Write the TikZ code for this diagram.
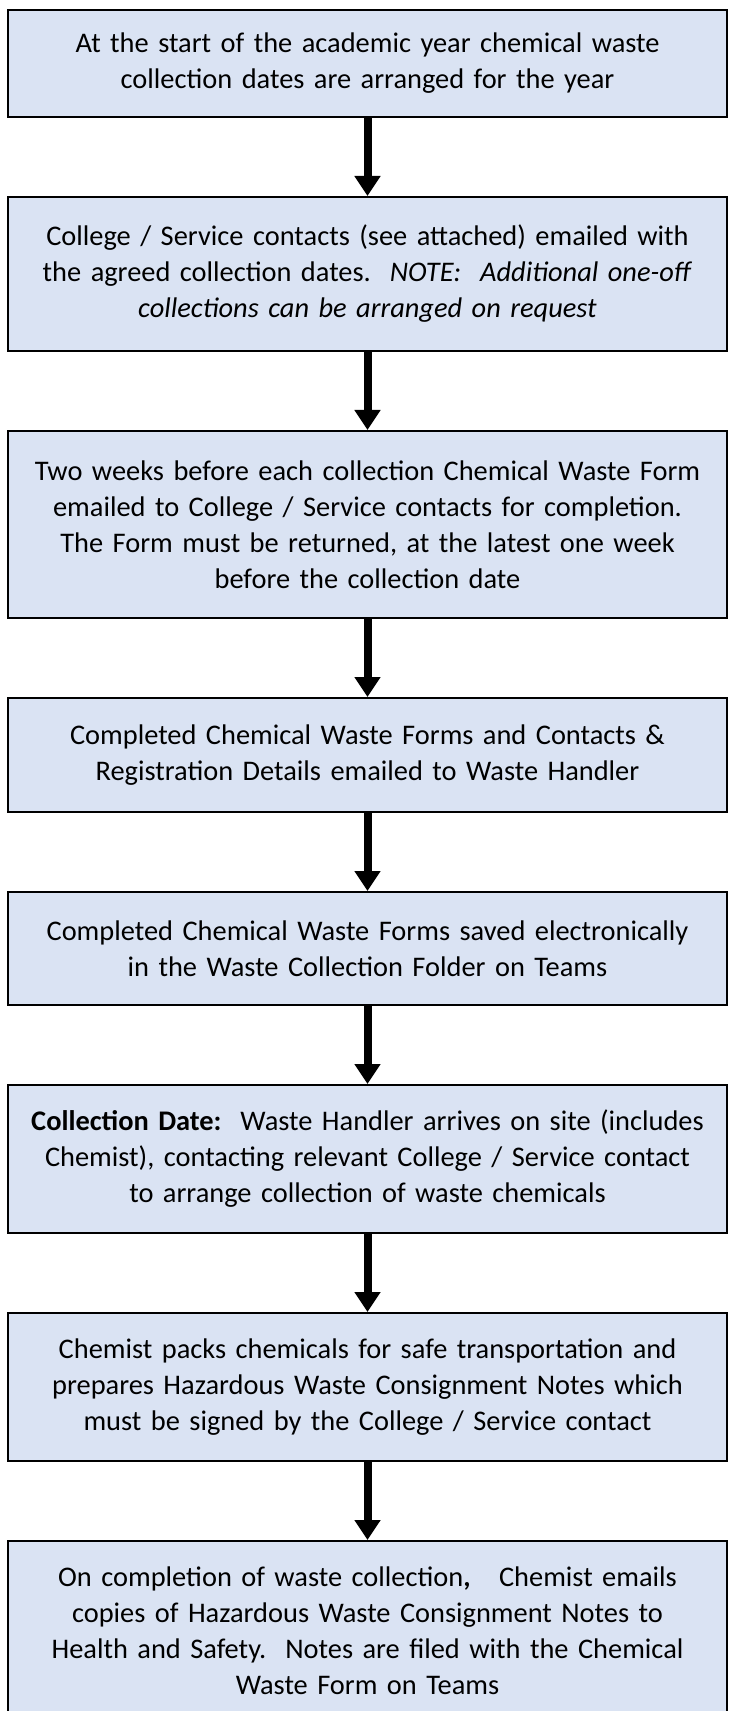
\documentclass[tikz,border=0pt]{standalone}
\usepackage{fontspec}
\setmainfont{Carlito}
\usetikzlibrary{positioning,arrows.meta}
\definecolor{boxblue}{RGB}{218,227,243}

\begin{document}
\begin{tikzpicture}
  \tikzset{stepbox/.style={draw=black, line width=1pt, fill=boxblue, minimum width=359.5pt, text width=352pt, align=center, inner sep=0pt, font=\fontsize{14.2}{18}\selectfont}}
  \tikzset{flow/.style={-{Triangle[width=12.5pt,length=10pt]}, line width=4pt}}

  \useasboundingbox (0,0) rectangle (364pt,-855.5pt);

  \node[stepbox, minimum height=53.5pt, anchor=north] (s1) at (183.75pt,-4.5pt)
    {At the start of the academic year chemical waste\\ collection dates are arranged for the year};
  \node[stepbox, minimum height=77pt, below=39pt of s1] (s2)
    {College / Service contacts (see attached) emailed with\\ the agreed collection dates.\ \ \textit{NOTE:\ \ Additional one-off}\\ \textit{collections can be arranged on request}};
  \node[stepbox, minimum height=93.5pt, below=39pt of s2] (s3)
    {Two weeks before each collection Chemical Waste Form\\ emailed to College / Service contacts for completion.\\ The Form must be returned, at the latest one week\\ before the collection date};
  \node[stepbox, minimum height=57pt, below=39pt of s3] (s4)
    {Completed Chemical Waste Forms and Contacts \&\\ Registration Details emailed to Waste Handler};
  \node[stepbox, minimum height=56.5pt, below=39pt of s4] (s5)
    {Completed Chemical Waste Forms saved electronically\\ in the Waste Collection Folder on Teams};
  \node[stepbox, minimum height=74pt, below=39pt of s5] (s6)
    {\textbf{Collection Date:}\ \ Waste Handler arrives on site (includes\\ Chemist), contacting relevant College / Service contact\\ to arrange collection of waste chemicals};
  \node[stepbox, minimum height=74pt, below=39pt of s6] (s7)
    {Chemist packs chemicals for safe transportation and\\ prepares Hazardous Waste Consignment Notes which\\ must be signed by the College / Service contact};
  \node[stepbox, minimum height=90pt, below=39pt of s7] (s8)
    {On completion of waste collection\textbf{,}\ \ \ Chemist emails\\ copies of Hazardous Waste Consignment Notes to\\ Health and Safety.\ \ Notes are filed with the Chemical\\ Waste Form on Teams};

  \foreach \a/\b in {s1/s2, s2/s3, s3/s4, s4/s5, s5/s6, s6/s7, s7/s8}
    \draw[flow] (\a) -- (\b);
\end{tikzpicture}
\end{document}
